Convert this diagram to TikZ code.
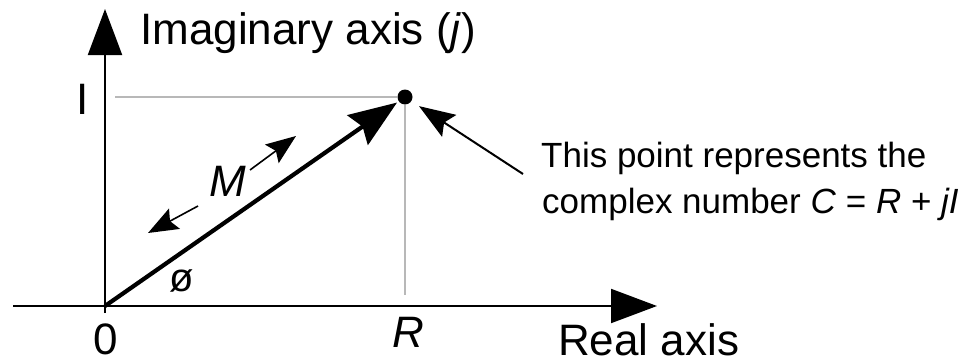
\documentclass[tikz,border=0pt]{standalone}
\usepackage{fontspec}
\setmainfont{Liberation Sans}
\usetikzlibrary{arrows.meta}
\begin{document}
\begin{tikzpicture}[x=1pt,y=-1pt,
  axisline/.style={line width=2pt,-{Triangle[length=46pt,width=34pt]}},
  vecline/.style={line width=4.2pt,-{Stealth[length=48pt,width=36pt,inset=6pt]}},
  smallarrow/.style={line width=1.6pt,-{Stealth[length=30pt,width=23pt,inset=5pt]}},
  callout/.style={line width=2pt,-{Stealth[length=36pt,width=26pt,inset=6pt]}},
  guide/.style={line width=1.4pt,draw=black!28},
  bigtext/.style={inner sep=0pt,font=\fontsize{44}{50}\selectfont},
  midtext/.style={inner sep=0pt,font=\fontsize{35}{42}\selectfont},
  dotnode/.style={circle,fill=black,inner sep=0pt,minimum size=15pt}
]
\useasboundingbox (0,0) rectangle (967,364);
% anchors
\coordinate (O) at (105,306);
\coordinate (ybot) at (105,313);
\coordinate (ytop) at (105,9);
\coordinate (xleft) at (13,306);
\coordinate (xend) at (657,306);
\node[dotnode] (dot) at (405,97) {};
\coordinate (gl) at (115,97);
\coordinate (gb) at (405,295);
% guides
\draw[guide] (dot) -- (gl);
\draw[guide] (dot) -- (gb);
% axes
\draw[axisline] (ybot) -- (ytop);
\draw[axisline] (xleft) -- (xend);
% vector
\draw[vecline,shorten >=2pt] (O) -- (dot);
% M arrows
\coordinate (m1a) at (250,170);
\coordinate (m1b) at (296,136);
\coordinate (m2a) at (198,206);
\coordinate (m2b) at (148,233);
\draw[smallarrow] (m1a) -- (m1b);
\draw[smallarrow] (m2a) -- (m2b);
% callout
\coordinate (ctail) at (523,174);
\draw[callout,shorten >=9pt] (ctail) -- (dot);
% labels
\node[bigtext,anchor=base west] (ylab) at (140,44) {Imaginary axis (\textit{j})};
\node[bigtext,anchor=base west] (xlab) at (558,355) {Real axis};
\node[bigtext] (Ilab) at (83,99) {I};
\node[bigtext] (zlab) at (106,339) {0};
\node[bigtext] (Rlab) at (408,332) {\textit{R}};
\node[bigtext] (Mlab) at (228,181) {\textit{M}};
\node[inner sep=0pt,font=\fontsize{40}{44}\selectfont] (philab) at (182,281) {ø};
\node[midtext,anchor=base west] (t1) at (541,167) {This point represents the};
\node[midtext,anchor=base west] (t2) at (542,213) {complex number \textit{C\/} = \textit{R\/} + \textit{jI}};
\end{tikzpicture}
\end{document}
